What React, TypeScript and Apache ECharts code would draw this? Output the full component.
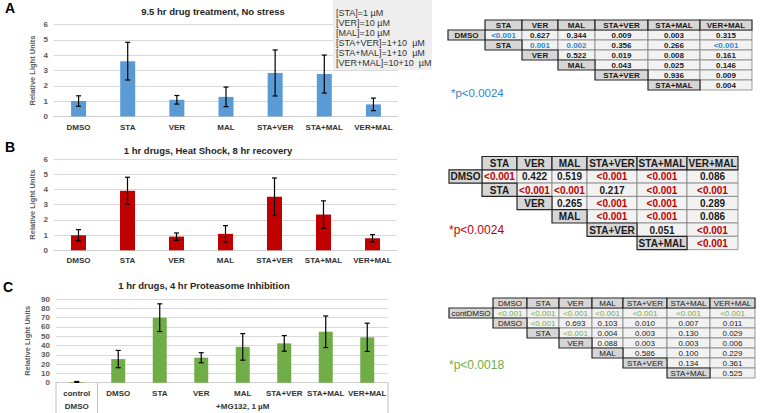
import React, { useEffect, useRef } from 'react';
import * as echarts from 'echarts';

// ---------- data ----------
const catsAB = ['DMSO', 'STA', 'VER', 'MAL', 'STA+VER', 'STA+MAL', 'VER+MAL'];
const meansA = [1.01, 3.61, 1.09, 1.28, 2.84, 2.77, 0.79];
const errsA = [0.34, 1.23, 0.28, 0.64, 1.5, 1.24, 0.41];
const meansB = [0.99, 3.91, 0.9, 1.08, 3.52, 2.35, 0.79];
const errsB = [0.37, 0.89, 0.24, 0.54, 1.23, 0.9, 0.24];
const catsC = ['control', 'DMSO', 'STA', 'VER', 'MAL', 'STA+VER', 'STA+MAL', 'VER+MAL'];
const meansC = [0.8, 25.4, 69.9, 26.9, 38.5, 42.3, 54.8, 48.8];
const errsC = [0.5, 9.3, 14.9, 5.4, 14.3, 8.4, 17.0, 15.2];

const titleA = '9.5 hr drug treatment, No stress';
const titleB = '1 hr drugs, Heat Shock, 8 hr recovery';
const titleC = '1 hr drugs, 4 hr Proteasome Inhibition';
const legendLines = ['[STA]=1 \u00b5M', '[VER]=10 \u00b5M', '[MAL]=10 \u00b5M', '[STA+VER]=1+10  \u00b5M', '[STA+MAL]=1+10  \u00b5M', '[VER+MAL]=10+10  \u00b5M'];

const headersAB = ['STA', 'VER', 'MAL', 'STA+VER', 'STA+MAL', 'VER+MAL'];
const rowLabelsAB = ['DMSO', 'STA', 'VER', 'MAL', 'STA+VER', 'STA+MAL'];
const pA = [
  ['<0.001', '0.627', '0.344', '0.009', '0.003', '0.315'],
  ['0.001', '0.002', '0.356', '0.266', '<0.001'],
  ['0.522', '0.019', '0.008', '0.161'],
  ['0.043', '0.025', '0.146'],
  ['0.936', '0.009'],
  ['0.004'],
];
const pB = [
  ['<0.001', '0.422', '0.519', '<0.001', '<0.001', '0.086'],
  ['<0.001', '<0.001', '0.217', '<0.001', '<0.001'],
  ['0.265', '<0.001', '<0.001', '0.289'],
  ['<0.001', '<0.001', '0.086'],
  ['0.051', '<0.001'],
  ['<0.001'],
];
const headersC = ['DMSO', 'STA', 'VER', 'MAL', 'STA+VER', 'STA+MAL', 'VER+MAL'];
const rowLabelsC = ['contDMSO', 'DMSO', 'STA', 'VER', 'MAL', 'STA+VER', 'STA+MAL'];
const pC = [
  ['<0.001', '<0.001', '<0.001', '<0.001', '<0.001', '<0.001', '<0.001'],
  ['<0.001', '0.693', '0.103', '0.010', '0.007', '0.011'],
  ['<0.001', '0.004', '0.003', '0.130', '0.029'],
  ['0.088', '0.003', '0.003', '0.006'],
  ['0.586', '0.100', '0.229'],
  ['0.134', '0.361'],
  ['0.525'],
];
const thresholdA = 0.0024;
const thresholdB = 0.0024;
const thresholdC = 0.0018;

// ---------- styles ----------
const FONT = "'Liberation Sans', Arial, Helvetica, sans-serif";
const FONT_N = "'Liberation Sans Narrow', 'Liberation Sans', Arial, sans-serif";
const BLUE = '#5b9bd5';
const RED = '#c00000';
const GREEN = '#70ad47';
const SIG_BLUE = '#2f86cf';

function txt(text: string, x: number, y: number, o: any = {}) {
  return {
    type: 'text',
    z: o.z ?? 20,
    style: {
      text, x, y,
      align: o.align ?? 'left', textAlign: o.align ?? 'left',
      verticalAlign: 'middle', textVerticalAlign: 'middle',
      fontSize: o.fontSize ?? 9, fontWeight: o.fontWeight ?? 'normal',
      fontFamily: o.fontFamily ?? FONT, fill: o.fill ?? '#262626',
    },
  };
}

type TableSpec = {
  x0: number; y0: number; colW: number[]; rowH: number;
  headers: string[]; rowLabels: string[]; values: string[][];
  threshold: number; sigColor: string; fontSize: number; fontWeight: string; fontFamily: string;
};

function buildTable(t: TableSpec) {
  const xs = [t.x0];
  t.colW.forEach((w) => xs.push(xs[xs.length - 1] + w));
  const els: any[] = [];
  const cell = (col: number, row: number, text: string, kind: string, color: string) => {
    const x = xs[col], y = t.y0 + row * t.rowH, w = t.colW[col], h = t.rowH;
    const isLabel = kind === 'label';
    els.push({
      type: 'rect', z: isLabel ? 12 : 10,
      shape: { x, y, width: w, height: h },
      style: { fill: isLabel ? '#d6d6d6' : '#f2f2f2', stroke: isLabel ? '#262626' : '#808080', lineWidth: isLabel ? 1.2 : 0.8 },
    });
    els.push(txt(text, x + w / 2, y + h / 2 + 0.5, { align: 'center', fontSize: t.fontSize, fontWeight: t.fontWeight, fontFamily: t.fontFamily, fill: color, z: 14 }));
  };
  t.headers.forEach((h, i) => cell(i + 1, 0, h, 'label', '#1a1a1a'));
  t.rowLabels.forEach((lab, r) => {
    cell(r, r + 1, lab, 'label', '#1a1a1a');
    t.values[r].forEach((v, j) => {
      const sig = v.startsWith('<') || parseFloat(v) < t.threshold;
      cell(r + 1 + j, r + 1, v, 'value', sig ? t.sigColor : '#1a1a1a');
    });
  });
  return els;
}

function errSeries(idx: number, means: number[], errs: number[]) {
  return {
    type: 'custom',
    xAxisIndex: idx, yAxisIndex: idx, z: 5,
    data: means.map((m, i) => [i, Math.max(0, m - errs[i]), m + errs[i]]),
    renderItem: (params: any, api: any) => {
      const lo = api.coord([api.value(0), api.value(1)]);
      const hi = api.coord([api.value(0), api.value(2)]);
      const x = lo[0];
      const w = 2.5;
      const st = { stroke: '#000', lineWidth: 1.2 };
      return {
        type: 'group',
        children: [
          { type: 'line', shape: { x1: x, y1: lo[1], x2: x, y2: hi[1] }, style: st },
          { type: 'line', shape: { x1: x - w, y1: hi[1], x2: x + w, y2: hi[1] }, style: st },
          { type: 'line', shape: { x1: x - w, y1: lo[1], x2: x + w, y2: lo[1] }, style: st },
        ],
      };
    },
  };
}

function xAxisBase(idx: number, data: string[], margin: number, extra: any = {}) {
  return {
    type: 'category', gridIndex: idx, data,
    axisTick: { show: false },
    axisLine: { lineStyle: { color: '#d0d0d0', width: 1 } },
    axisLabel: { interval: 0, fontSize: 8, fontWeight: 'bold', color: '#333', fontFamily: FONT, margin, ...extra },
  };
}

function yAxisBase(idx: number, max: number, interval: number, nameGap: number) {
  return {
    type: 'value', gridIndex: idx, min: 0, max, interval,
    axisLine: { show: false }, axisTick: { show: false },
    axisLabel: { fontSize: 8, fontWeight: 'bold', color: '#595959', fontFamily: FONT, margin: 6 },
    splitLine: { lineStyle: { color: '#d9d9d9', width: 1 } },
    name: 'Relative Light Units', nameLocation: 'middle', nameGap,
    nameTextStyle: { fontSize: 7.5, fontWeight: 'bold', color: '#595959', fontFamily: FONT },
  };
}

export default function App() {
  const ref = useRef<HTMLDivElement>(null);
  useEffect(() => {
    if (!ref.current) return;
    const chart = echarts.init(ref.current, undefined, { renderer: 'svg' });

    const base: any[] = [
      txt('A', 5, 8, { fontSize: 14, fontWeight: 'bold', fill: '#000' }),
      txt('B', 5, 147, { fontSize: 14, fontWeight: 'bold', fill: '#000' }),
      txt('C', 3, 287, { fontSize: 14, fontWeight: 'bold', fill: '#000' }),
      txt(titleA, 213, 11, { align: 'center', fontSize: 9.5, fontWeight: 'bold' }),
      txt(titleB, 208, 150, { align: 'center', fontSize: 9.5, fontWeight: 'bold' }),
      txt(titleC, 204, 285, { align: 'center', fontSize: 9.5, fontWeight: 'bold' }),
      { type: 'rect', z: 8, shape: { x: 333, y: 0, width: 99, height: 70 }, style: { fill: '#eeeeee' } },
      ...legendLines.map((l, i) => txt(l, 336, 12.7 + i * 10, { fontSize: 9, fill: '#333', z: 9 })),
      ...buildTable({ x0: 448, y0: 20, colW: [37, 37, 36, 37, 53, 52, 52], rowH: 10, headers: headersAB, rowLabels: rowLabelsAB, values: pA, threshold: thresholdA, sigColor: SIG_BLUE, fontSize: 8, fontWeight: 'bold', fontFamily: FONT }),
      ...buildTable({ x0: 449, y0: 156.5, colW: [33, 35, 35, 35, 50, 50, 51], rowH: 13.3, headers: headersAB, rowLabels: rowLabelsAB, values: pB, threshold: thresholdB, sigColor: RED, fontSize: 10, fontWeight: 'bold', fontFamily: FONT }),
      ...buildTable({ x0: 449, y0: 298, colW: [44, 34, 32, 33, 31, 44, 43, 45], rowH: 10, headers: headersC, rowLabels: rowLabelsC, values: pC, threshold: thresholdC, sigColor: GREEN, fontSize: 8, fontWeight: 'normal', fontFamily: FONT_N }),
      txt('*p<0.0024', 451, 93, { fontSize: 11.5, fill: SIG_BLUE }),
      txt('*p<0.0024', 449, 230, { fontSize: 12, fill: RED }),
      txt('*p<0.0018', 449, 365, { fontSize: 12, fill: GREEN }),
    ];

    const option: any = {
      animation: false,
      backgroundColor: '#ffffff',
      grid: [
        { left: 54, top: 24.5, width: 344, height: 92 },
        { left: 54, top: 159, width: 343, height: 91.3 },
        { left: 56, top: 299, width: 332, height: 83.7 },
      ],
      xAxis: [
        xAxisBase(0, catsAB, 7),
        xAxisBase(1, catsAB, 6),
        xAxisBase(2, catsC, 4, {
          lineHeight: 13,
          formatter: (v: string) => (v === 'control' ? 'control\nDMSO' : v),
        }),
      ],
      yAxis: [yAxisBase(0, 6, 1, 18), yAxisBase(1, 6, 1, 18), yAxisBase(2, 90, 10, 25)],
      series: [
        { type: 'bar', xAxisIndex: 0, yAxisIndex: 0, data: meansA, barWidth: 15, itemStyle: { color: BLUE } },
        errSeries(0, meansA, errsA),
        { type: 'bar', xAxisIndex: 1, yAxisIndex: 1, data: meansB, barWidth: 15, itemStyle: { color: RED } },
        errSeries(1, meansB, errsB),
        { type: 'bar', xAxisIndex: 2, yAxisIndex: 2, data: meansC, barWidth: 14, itemStyle: { color: GREEN } },
        errSeries(2, meansC, errsC),
      ],
      graphic: base,
    };
    chart.setOption(option);

    // category-boundary separators for panel C, derived from the axis scale
    const p0 = chart.convertToPixel({ xAxisIndex: 2 } as any, 0) as number;
    const p1 = chart.convertToPixel({ xAxisIndex: 2 } as any, 1) as number;
    const pn = chart.convertToPixel({ xAxisIndex: 2 } as any, catsC.length - 1) as number;
    const yBase = chart.convertToPixel({ yAxisIndex: 2 } as any, 0) as number;
    const band = p1 - p0;
    const seps = [p0 - band / 2, p0 + band / 2, pn + band / 2].map((x) => ({
      type: 'line', z: 6,
      shape: { x1: x, y1: yBase, x2: x, y2: 413 },
      style: { stroke: '#bfbfbf', lineWidth: 1 },
    }));
    const mg = txt('+MG132, 1 \u00b5M', (p0 + band / 2 + pn + band / 2) / 2, 406.5, { align: 'center', fontSize: 8, fontWeight: 'bold', fill: '#333' });
    chart.setOption({ graphic: [...base, ...seps, mg] });

    return () => chart.dispose();
  }, []);
  return <div ref={ref} style={{ position: 'fixed', left: 0, top: 0, width: 760, height: 413 }} />;
}
